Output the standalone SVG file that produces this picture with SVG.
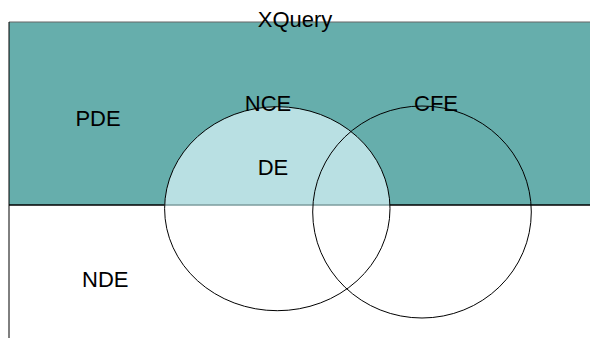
<svg xmlns="http://www.w3.org/2000/svg" width="590" height="338" viewBox="0 0 590 338">
<style>
.lbl{font-family:"Liberation Sans",Arial,sans-serif;font-size:22px;fill:#000;text-anchor:middle}
.ring{fill:none;stroke:#000;stroke-width:1}
</style>
<defs>
<clipPath id="topHalf"><rect x="0" y="0" width="590" height="205"/></clipPath>
</defs>
<rect width="590" height="338" fill="#fff"/>
<g id="pde-region">
<rect x="9" y="22" width="581" height="183" fill="#66AEAC"/>
<line x1="9" y1="22" x2="590" y2="22" stroke="#666" stroke-width="1.2"/>
</g>
<g id="de-region">
<ellipse cx="277.3" cy="208.7" rx="112.7" ry="102" fill="#B9E0E3" clip-path="url(#topHalf)"/>
</g>
<g id="connectors">
<line x1="9" y1="22" x2="9" y2="338" stroke="#000" stroke-width="1"/>
<line x1="9" y1="205" x2="164.6" y2="205" stroke="#000" stroke-width="1.5"/>
<line x1="164.6" y1="205" x2="390" y2="205" stroke="#7c9c9e" stroke-width="1.5"/>
<line x1="390" y1="205" x2="590" y2="205" stroke="#000" stroke-width="1.5"/>
</g>
<g id="nce">
<ellipse class="ring" cx="277.3" cy="208.7" rx="112.7" ry="102"/>
</g>
<g id="cfe">
<ellipse class="ring" cx="422" cy="212" rx="109.3" ry="106"/>
</g>
<g id="labels">
<text class="lbl" x="295" y="27">XQuery</text>
<text class="lbl" x="268" y="111">NCE</text>
<text class="lbl" x="273" y="175">DE</text>
<text class="lbl" x="436" y="111">CFE</text>
<text class="lbl" x="98" y="126">PDE</text>
<text class="lbl" x="105.3" y="287">NDE</text>
</g>
</svg>
